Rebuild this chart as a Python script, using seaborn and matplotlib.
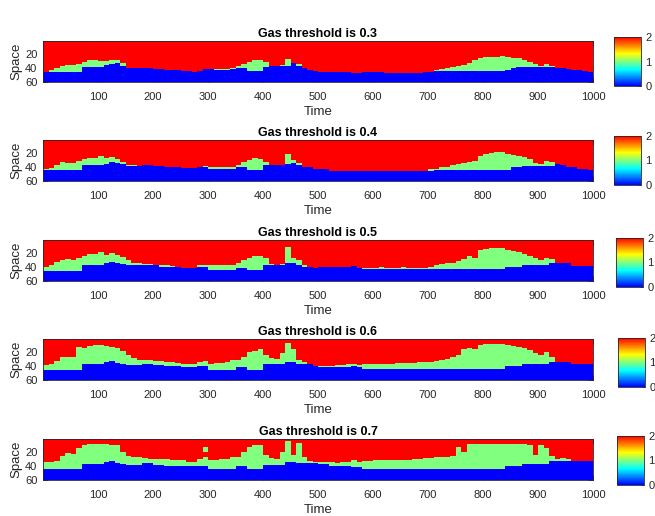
import numpy as np
import matplotlib
matplotlib.use('Agg')
import matplotlib.pyplot as plt
from matplotlib.colors import LinearSegmentedColormap
import seaborn as sns


# layer boundaries, one value per 10 time steps
# (first row of the green layer / first row of the blue layer, rows 1..60 from the top)
thresholds = [0.3, 0.4, 0.5, 0.6, 0.7]
time_ticks = [100, 200, 300, 400, 500, 600, 700, 800, 900, 1000]
space_ticks = [20, 40, 60]
n_space = 60
time_step = 10

blue_top_03 = [46, 46, 46, 46, 46, 46, 46, 39, 39, 39,
               39, 36, 34, 33, 37, 40, 40, 40, 41, 41,
               42, 42, 43, 43, 44, 45, 45, 46, 45, 42,
               42, 43, 43, 43, 42, 40, 40, 45, 45, 45,
               39, 38, 38, 38, 37, 33, 38, 40, 43, 45,
               46, 46, 47, 47, 47, 47, 48, 48, 47, 47,
               47, 47, 48, 48, 48, 48, 48, 48, 48, 47,
               46, 45, 45, 45, 45, 45, 45, 45, 45, 45,
               45, 45, 45, 45, 43, 41, 39, 39, 39, 39,
               39, 39, 39, 40, 41, 42, 43, 44, 45, 46]
green_top_03 = [46, 44, 41, 38, 36, 36, 34, 31, 29, 29,
                30, 30, 29, 29, 33, 40, 40, 40, 41, 41,
                42, 42, 43, 43, 44, 45, 45, 46, 45, 42,
                42, 42, 42, 42, 41, 38, 34, 31, 29, 29,
                32, 38, 38, 36, 28, 33, 35, 40, 43, 45,
                46, 46, 47, 47, 47, 47, 48, 48, 47, 47,
                47, 47, 48, 48, 48, 48, 48, 48, 48, 47,
                46, 44, 42, 41, 39, 37, 36, 33, 29, 26,
                25, 25, 24, 23, 25, 26, 26, 29, 31, 35,
                37, 34, 38, 40, 41, 42, 43, 44, 45, 46]

blue_top_04 = [45, 45, 45, 45, 45, 45, 45, 38, 38, 38,
               38, 36, 33, 34, 36, 39, 39, 39, 38, 38,
               39, 39, 40, 40, 40, 42, 42, 42, 41, 40,
               44, 44, 44, 44, 44, 41, 41, 45, 45, 45,
               38, 38, 38, 38, 36, 34, 38, 40, 40, 43,
               44, 44, 46, 46, 46, 46, 46, 46, 46, 46,
               46, 46, 46, 46, 46, 46, 46, 46, 46, 46,
               46, 45, 45, 45, 45, 45, 45, 45, 45, 45,
               45, 45, 45, 45, 45, 41, 41, 39, 39, 39,
               39, 39, 39, 36, 38, 40, 41, 43, 44, 45]
green_top_04 = [44, 42, 37, 33, 34, 34, 32, 29, 27, 28,
                25, 28, 26, 29, 33, 37, 38, 39, 38, 38,
                39, 39, 40, 40, 40, 42, 42, 42, 41, 39,
                40, 40, 40, 40, 40, 37, 33, 30, 28, 29,
                33, 37, 38, 38, 22, 30, 34, 40, 40, 43,
                44, 44, 46, 46, 46, 46, 46, 46, 46, 46,
                46, 46, 46, 46, 46, 46, 46, 46, 46, 46,
                44, 43, 41, 40, 38, 36, 34, 33, 32, 25,
                21, 20, 19, 18, 22, 23, 24, 26, 29, 34,
                36, 32, 33, 36, 38, 40, 41, 43, 44, 45]

blue_top_05 = [46, 46, 46, 46, 46, 46, 46, 38, 38, 38,
               38, 35, 33, 35, 36, 38, 38, 38, 37, 37,
               38, 40, 40, 40, 40, 42, 42, 42, 41, 41,
               45, 45, 45, 45, 45, 42, 42, 45, 45, 45,
               38, 38, 38, 38, 35, 35, 38, 40, 40, 42,
               41, 41, 41, 41, 41, 41, 39, 42, 44, 44,
               44, 44, 44, 44, 44, 44, 44, 44, 44, 44,
               44, 44, 44, 44, 44, 44, 44, 44, 44, 44,
               44, 44, 44, 44, 41, 41, 41, 37, 37, 37,
               37, 37, 34, 34, 34, 34, 39, 39, 39, 39]
green_top_05 = [41, 38, 33, 30, 29, 30, 28, 25, 21, 22,
                19, 23, 20, 23, 26, 30, 34, 35, 36, 36,
                37, 37, 38, 39, 40, 42, 42, 42, 37, 38,
                38, 38, 38, 38, 38, 35, 31, 27, 25, 24,
                28, 36, 37, 36, 11, 27, 31, 37, 40, 42,
                41, 41, 41, 41, 41, 41, 39, 42, 42, 42,
                42, 40, 42, 42, 42, 41, 42, 42, 42, 42,
                41, 38, 36, 35, 34, 32, 29, 25, 27, 16,
                14, 13, 13, 13, 15, 17, 19, 21, 24, 27,
                30, 28, 29, 34, 34, 34, 39, 39, 39, 39]

blue_top_06 = [46, 46, 46, 46, 46, 46, 46, 38, 38, 38,
               38, 35, 33, 36, 37, 39, 39, 39, 37, 37,
               39, 39, 40, 40, 40, 42, 42, 42, 41, 41,
               46, 46, 46, 46, 46, 42, 42, 46, 46, 46,
               38, 38, 38, 38, 35, 35, 37, 38, 38, 41,
               42, 42, 42, 42, 42, 42, 40, 42, 45, 45,
               45, 45, 45, 45, 45, 45, 45, 45, 45, 45,
               45, 45, 45, 45, 45, 45, 45, 45, 45, 45,
               45, 45, 45, 45, 41, 41, 41, 38, 38, 38,
               38, 38, 34, 34, 34, 34, 37, 37, 37, 37]
green_top_06 = [39, 37, 33, 28, 28, 28, 13, 14, 11, 10,
                10, 11, 12, 14, 19, 25, 29, 31, 31, 32,
                33, 33, 34, 34, 36, 37, 38, 37, 34, 33,
                37, 36, 36, 35, 32, 31, 27, 20, 18, 15,
                24, 29, 30, 22, 7, 15, 31, 34, 37, 40,
                40, 40, 40, 39, 39, 38, 38, 39, 38, 37,
                37, 37, 37, 37, 36, 36, 36, 36, 35, 35,
                34, 33, 31, 30, 28, 24, 16, 14, 15, 10,
                9, 9, 9, 9, 10, 11, 12, 14, 17, 22,
                25, 20, 28, 34, 34, 34, 37, 37, 37, 37]

blue_top_07 = [45, 45, 45, 45, 45, 45, 45, 38, 38, 38,
               38, 35, 33, 36, 37, 39, 39, 39, 36, 36,
               39, 39, 40, 40, 40, 41, 41, 41, 40, 40,
               45, 45, 45, 45, 45, 41, 41, 45, 45, 45,
               39, 39, 39, 39, 35, 35, 36, 36, 36, 36,
               37, 37, 40, 40, 40, 40, 42, 42, 45, 45,
               45, 45, 45, 45, 45, 45, 45, 45, 45, 45,
               45, 45, 45, 45, 45, 45, 45, 45, 45, 45,
               45, 45, 45, 45, 41, 41, 41, 38, 38, 38,
               38, 38, 33, 33, 33, 33, 33, 33, 33, 33]
green_top_07 = [34, 35, 33, 26, 21, 23, 14, 10, 9, 8,
                9, 9, 10, 10, 20, 26, 27, 28, 29, 30,
                30, 30, 30, 31, 31, 32, 35, 34, 30, 27,
                32, 31, 30, 30, 28, 27, 20, 12, 10, 10,
                25, 29, 30, 20, 4, 25, 7, 28, 33, 34,
                34, 34, 35, 36, 35, 34, 32, 34, 33, 33,
                32, 32, 32, 32, 32, 31, 31, 30, 30, 29,
                29, 28, 28, 28, 26, 12, 20, 9, 8, 8,
                8, 8, 8, 8, 8, 8, 8, 9, 10, 24,
                10, 14, 26, 30, 29, 30, 33, 33, 33, 33]

# small detached green patch in the 0.7 panel
blob_col_07 = 29
blob_rows_07 = [12, 19]

blue_tops = [blue_top_03, blue_top_04, blue_top_05, blue_top_06, blue_top_07]
green_tops = [green_top_03, green_top_04, green_top_05, green_top_06, green_top_07]


def layer_grid(blue_top, green_top):
    rows = np.arange(1, n_space + 1)[:, None]
    b = np.asarray(blue_top)[None, :]
    g = np.asarray(green_top)[None, :]
    grid = np.full((n_space, len(blue_top)), 2)
    grid[np.broadcast_to(rows >= g, grid.shape)] = 1
    grid[np.broadcast_to(rows >= b, grid.shape)] = 0
    return grid


sns.set_theme(style='white')
plt.rcParams['font.family'] = ['Liberation Sans', 'DejaVu Sans']
dark = '#262626'

# jet without the dark ends, as in the original colorbar
cmap = LinearSegmentedColormap.from_list(
    'jet_mid', ['#0000ff', '#00ffff', '#ffff00', '#ff0000'], N=256)

W, H = 655, 516
fig = plt.figure(figsize=(W / 100, H / 100), dpi=100)

ax_tops = [41, 140, 240, 339, 439]
cbar_xy = [(614, 37), (614, 136), (616, 238), (618, 338), (617, 436)]

for i, thr in enumerate(thresholds):
    top = ax_tops[i]
    ax = fig.add_axes([43 / W, 1 - (top + 41) / H, 550 / W, 41 / H])
    cx, cy = cbar_xy[i]
    cax = fig.add_axes([cx / W, 1 - (cy + 49) / H, 27 / W, 49 / H])

    grid = layer_grid(blue_tops[i], green_tops[i])
    if thr == 0.7:
        grid[blob_rows_07[0] - 1:blob_rows_07[1], blob_col_07] = 1

    sns.heatmap(grid, ax=ax, cbar_ax=cax, cmap=cmap, vmin=0, vmax=2,
                xticklabels=False, yticklabels=False)

    ax.set_xticks(np.array(time_ticks) / time_step)
    ax.set_xticklabels([str(t) for t in time_ticks])
    ax.set_yticks(np.array(space_ticks) - 0.5)
    ax.set_yticklabels([str(s) for s in space_ticks], rotation=0)
    ax.tick_params(direction='in', bottom=True, left=True, top=True, right=True,
                   length=3.5, width=0.6, color=dark, labelsize=8,
                   labelcolor=dark)
    ax.tick_params(axis='x', pad=7)
    ax.tick_params(axis='y', pad=4)
    for sp in ax.spines.values():
        sp.set_visible(True)
        sp.set_color(dark)
        sp.set_linewidth(0.6)

    ax.set_title(f'Gas threshold is {thr}', fontsize=9, fontweight='bold',
                 pad=3, color='black')
    ax.set_xlabel('Time', fontsize=9.5, labelpad=3, color=dark)
    ax.set_ylabel('Space', fontsize=9.5, labelpad=2, color=dark)

    cb = ax.collections[0].colorbar
    cb.set_ticks([0, 1, 2])
    cb.set_ticklabels(['0', '1', '2'])
    cb.outline.set_visible(True)
    cb.outline.set_linewidth(0.6)
    cb.outline.set_edgecolor(dark)
    cax.tick_params(direction='in', right=True, length=2.5, width=0.5,
                    color=dark, labelsize=8, labelcolor=dark, pad=3)

fig.savefig('out.png', dpi=100)
